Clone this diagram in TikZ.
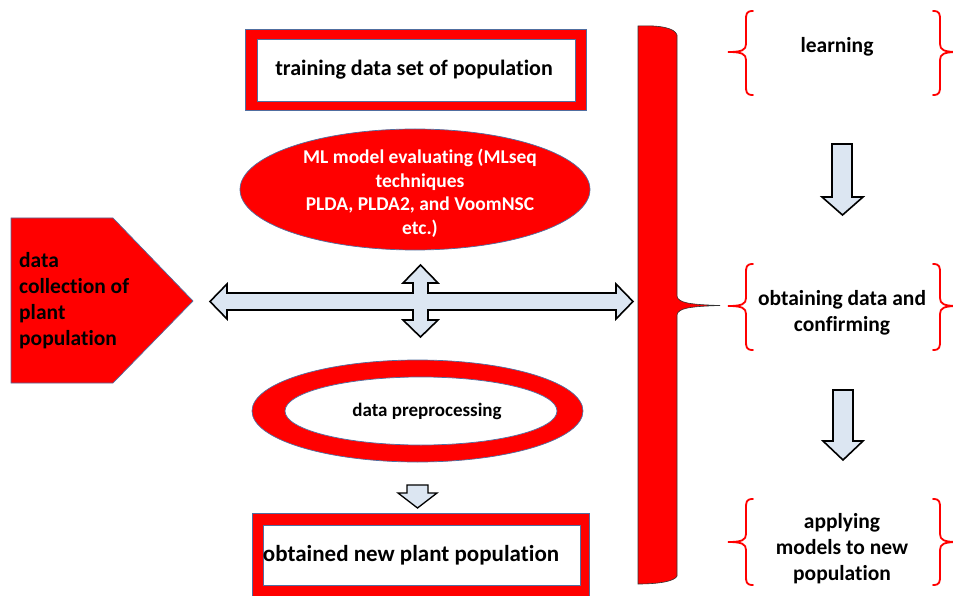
\documentclass[tikz,border=0pt]{standalone}
\usepackage{fontspec}
\setmainfont{Carlito}[Ligatures=NoCommon]
\definecolor{boxred}{RGB}{255,0,0}
\definecolor{edgeblue}{RGB}{80,110,160}
\definecolor{arrowfill}{RGB}{220,230,242}
\begin{document}
\begin{tikzpicture}[x=1pt,y=-1pt,
  redshape/.style={fill=boxred,draw=edgeblue,line width=0.7pt},
  whiteshape/.style={fill=white,draw=edgeblue,line width=0.7pt},
  blockarrow/.style={fill=arrowfill,draw=black,line width=1.6pt,line join=miter},
  bracket/.style={draw=boxred,line width=1.8pt,line cap=round},
  lbl/.style={font=\bfseries\fontsize{21.5}{26}\selectfont,align=center,inner sep=0pt},
  phase/.style={font=\bfseries\fontsize{21.5}{26}\selectfont,align=center,inner sep=0pt}]
\useasboundingbox (0,0) rectangle (953,596);

% left pentagon: data collection
\path[redshape] (11,218) -- (113,218) -- (193,301) -- (113,383) -- (11,383) -- cycle;
\node[lbl,align=left,anchor=west] (collect) at (19,301)
  {data\\collection of\\plant\\population};

% training data box
\path[redshape] (245,29) rectangle (586,110);
\path[whiteshape] (257,39) rectangle (575,101);
\node[lbl,font=\bfseries\fontsize{22}{26}\selectfont] (train) at (414,70) {training data set of population};

% model evaluation ellipse
\path[redshape] (415,189.5) ellipse [x radius=175, y radius=60.5];
\node[lbl,text=white,font=\bfseries\fontsize{19.5}{23.5}\selectfont] (model) at (420,193)
  {ML model evaluating (MLseq\\techniques\\PLDA, PLDA2, and VoomNSC\\etc.)};

% four-way block arrow
\path[blockarrow] (210,301.5) -- (227,284) -- (227,293) -- (413,293) -- (413,283)
  -- (403,283) -- (420.5,265) -- (438,283) -- (428,283) -- (428,293) -- (616,293)
  -- (616,284) -- (633,301.5) -- (616,319) -- (616,310) -- (428,310) -- (428,320)
  -- (438,320) -- (420.5,337) -- (403,320) -- (413,320) -- (413,310) -- (227,310)
  -- (227,319) -- cycle;

% preprocessing ring
\path[redshape] (417.5,411) ellipse [x radius=165.5, y radius=51];
\path[whiteshape] (421,411) ellipse [x radius=136, y radius=34];
\node[lbl,font=\bfseries\fontsize{19}{22}\selectfont] (prep) at (427,411) {data preprocessing};

% small arrow to result
\path[blockarrow,line width=1.3pt] (407,485) -- (428,485) -- (428,493) -- (437,493) -- (417.5,508)
  -- (398,493) -- (407,493) -- cycle;

% new population box
\path[redshape] (252,513) rectangle (589,598);
\path[whiteshape] (263,525) rectangle (580,585);
\node[lbl,font=\bfseries\fontsize{23}{26}\selectfont] (result) at (411,555) {obtained new plant population};

% tall brace bar
\path[fill=boxred,draw=black!80,line width=0.6pt]
  (638,26) .. controls (660,25) and (675,28) .. (677,35) -- (677,296)
  .. controls (678,303) and (690,304.5) .. (720,305.5)
  .. controls (690,306.5) and (678,308) .. (677,315) -- (677,576)
  .. controls (675,581) and (660,584) .. (638,584) -- cycle;

% phase labels with braces
\foreach \t/\m/\b in {11/52/95, 264/306/350, 499/542/585}{
  \draw[bracket] (753,\t) .. controls (746,\t) and (746,\t+3) .. (746,\t+10)
    -- (746,\m-8) .. controls (746,\m-2) and (742,\m) .. (728,\m)
    .. controls (742,\m) and (746,\m+2) .. (746,\m+8)
    -- (746,\b-10) .. controls (746,\b-3) and (746,\b) .. (753,\b);
  \draw[bracket] (933,\t) .. controls (940,\t) and (940,\t+3) .. (940,\t+10)
    -- (940,\m-8) .. controls (940,\m-2) and (944,\m) .. (958,\m)
    .. controls (944,\m) and (940,\m+2) .. (940,\m+8)
    -- (940,\b-10) .. controls (940,\b-3) and (940,\b) .. (933,\b);
}
\node[phase] (learn) at (837,47) {learning};
\node[phase] (confirm) at (842,313) {obtaining data and\\confirming};
\node[phase] (apply) at (842,549) {applying\\models to new\\population};

% downward arrows between phases
\path[blockarrow] (832,144) -- (852,144) -- (852,197) -- (863,197) -- (842.5,215)
  -- (822,197) -- (832,197) -- cycle;
\path[blockarrow] (833,390) -- (853,390) -- (853,441) -- (863,441) -- (843,460)
  -- (823,441) -- (833,441) -- cycle;
\end{tikzpicture}
\end{document}
